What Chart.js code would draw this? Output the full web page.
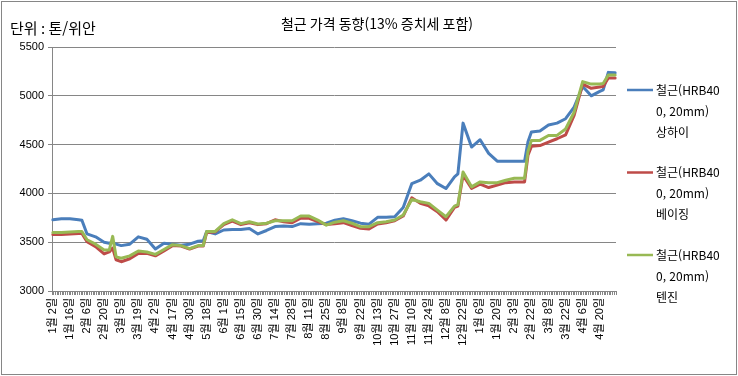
<!DOCTYPE html>
<html lang="ko">
<head>
<meta charset="utf-8">
<script src="https://cdn.jsdelivr.net/npm/chart.js@4.4.1/dist/chart.umd.min.js"></script>
<style>
  body { margin: 0; background: #fff; }
  canvas { display: block; }
</style>
</head>
<body>
<canvas id="SteelPrice" width="738" height="376"></canvas>
<script>
// tick labels, one every 10 trading days
var dateLabels_Steel = [
  "1월 2일", "1월 16일", "2월 6일", "2월 20일", "3월 5일", "3월 19일", "4월 2일", "4월 17일",
  "4월 30일", "5월 18일", "6월 1일", "6월 15일", "6월 30일", "7월 14일", "7월 28일", "8월 11일",
  "8월 25일", "9월 8일", "9월 22일", "10월 13일", "10월 27일", "11월 10일", "11월 24일", "12월 8일",
  "12월 22일", "1월 6일", "1월 20일", "2월 3일", "2월 22일", "3월 8일", "3월 22일", "4월 6일", "4월 20일"
];
var dayCount_Steel = 330;

// trading-day index of each sampled value
var dayIndex_Steel = [
  0, 5, 10, 15, 17, 20, 25, 30, 33, 35, 37, 40, 45, 50, 55, 60, 65, 70, 75, 80, 85, 88, 90, 95,
  100, 105, 110, 115, 120, 125, 130, 135, 140, 145, 150, 155, 160, 165, 170, 175, 180, 185, 190, 195,
  200, 205, 210, 215, 220, 225, 230, 235, 237, 240, 245, 250, 255, 260, 265, 270, 275, 276, 278, 280, 285, 290, 295,
  300, 305, 310, 315, 320, 322, 325, 329
];

var shanghai_Steel = [
  3730, 3740, 3740, 3730, 3725, 3585, 3555, 3500, 3490, 3500, 3480, 3465, 3480, 3555, 3530, 3430, 3490, 3480, 3470, 3480, 3510, 3515, 3610, 3585,
  3625, 3630, 3630, 3640, 3585, 3620, 3660, 3665, 3660, 3690, 3685, 3690, 3695, 3725, 3740, 3720, 3695, 3685, 3755, 3755,
  3760, 3855, 4100, 4135, 4200, 4100, 4050, 4170, 4200, 4720, 4475, 4550, 4410, 4330, 4330, 4330, 4330, 4330, 4530, 4630, 4640, 4700, 4720,
  4765, 4885, 5095, 5000, 5045, 5060, 5240, 5235
];

var beijing_Steel = [
  3580, 3580, 3585, 3590, 3590, 3505, 3455, 3380, 3400, 3440, 3320, 3300, 3330, 3385, 3385, 3360, 3410, 3465, 3460, 3430, 3460, 3460, 3600, 3605,
  3680, 3715, 3680, 3700, 3680, 3690, 3730, 3710, 3700, 3745, 3745, 3710, 3680, 3690, 3700, 3670, 3643, 3635, 3686, 3700,
  3720, 3768, 3955, 3898, 3872, 3812, 3727, 3857, 3870, 4186, 4050, 4095, 4060, 4085, 4110, 4118, 4118, 4118, 4390, 4482, 4490, 4526, 4560,
  4600, 4800, 5120, 5077, 5090, 5095, 5183, 5183
];

var tianjin_Steel = [
  3600, 3600, 3605, 3610, 3610, 3525, 3480, 3420, 3420, 3560, 3350, 3335, 3360, 3410, 3400, 3375, 3425, 3475, 3465, 3435, 3465, 3465, 3610, 3610,
  3690, 3730, 3690, 3710, 3686, 3694, 3720, 3720, 3720, 3768, 3768, 3727, 3675, 3705, 3720, 3694, 3659, 3659, 3700, 3710,
  3727, 3778, 3938, 3914, 3898, 3829, 3761, 3870, 3885, 4220, 4067, 4118, 4110, 4110, 4135, 4155, 4155, 4155, 4430, 4543, 4543, 4594, 4594,
  4660, 4832, 5145, 5120, 5120, 5125, 5213, 5213
];

var seriesNames_Steel = [
  ["철근(HRB40", "0, 20mm)", "상하이"],
  ["철근(HRB40", "0, 20mm)", "베이징"],
  ["철근(HRB40", "0, 20mm)", "텐진"]
];
var seriesColors_Steel = ["#4a7ebb", "#be4b48", "#98b954"];

// one category per trading day, label on every 10th
var xLabels_Steel = [];
for (var i = 0; i < dayCount_Steel; i++) {
  xLabels_Steel.push(i % 10 === 0 ? dateLabels_Steel[i / 10] : "");
}

// spread the sampled values over the day categories, gaps are spanned
function toDaily(values) {
  const out = new Array(dayCount_Steel).fill(null);
  values.forEach((v, k) => { out[dayIndex_Steel[k]] = v; });
  return out;
}

const fontFamily = "'Liberation Sans', 'Noto Sans CJK KR', sans-serif";
const krFont = "'Noto Sans CJK KR', sans-serif";

const decor_Steel = {
  id: "decor",
  beforeDraw(chart) {
    const ctx = chart.ctx;
    ctx.save();
    ctx.fillStyle = "#fff";
    ctx.fillRect(0, 0, chart.width, chart.height);
    ctx.restore();
  },
  afterDraw(chart) {
    const ctx = chart.ctx;
    ctx.save();
    ctx.fillStyle = "#000";
    ctx.textBaseline = "middle";

    ctx.font = "14px " + krFont;
    ctx.textAlign = "center";
    ctx.fillText("철근 가격 동향(13% 증치세 포함)", 377, 24);

    ctx.font = "15px " + krFont;
    ctx.textAlign = "left";
    ctx.fillText("단위 : 톤/위안", 10, 28);

    // legend
    ctx.font = "12px " + krFont;
    seriesNames_Steel.forEach((lines, k) => {
      const y0 = 90 + k * 82.5;
      ctx.strokeStyle = seriesColors_Steel[k];
      ctx.lineWidth = 2.5;
      ctx.beginPath();
      ctx.moveTo(627, y0);
      ctx.lineTo(653, y0);
      ctx.stroke();
      lines.forEach((t, j) => ctx.fillText(t, 656, y0 + j * 21));
    });

    ctx.strokeStyle = "#868686";
    ctx.lineWidth = 1;
    ctx.strokeRect(1.5, 1.5, chart.width - 3, chart.height - 3);
    ctx.restore();
  }
};

const config_Steel = {
  type: "line",
  data: {
    labels: xLabels_Steel,
    datasets: [
      { label: seriesNames_Steel[0].join(""), data: toDaily(shanghai_Steel), borderColor: seriesColors_Steel[0], order: 3 },
      { label: seriesNames_Steel[1].join(""), data: toDaily(beijing_Steel), borderColor: seriesColors_Steel[1], order: 2 },
      { label: seriesNames_Steel[2].join(""), data: toDaily(tianjin_Steel), borderColor: seriesColors_Steel[2], order: 1 },
    ],
  },
  options: {
    responsive: false,
    animation: false,
    spanGaps: true,
    layout: { padding: { top: 47, right: 122, left: 0, bottom: 0 } },
    elements: {
      point: { radius: 0 },
      line: { borderWidth: 3, tension: 0, borderJoinStyle: "round", borderCapStyle: "round" },
    },
    scales: {
      x: {
        type: "category",
        offset: true,
        border: { color: "#868686" },
        grid: { drawOnChartArea: false, tickLength: 4, color: "#868686", offset: true },
        ticks: {
          autoSkip: false,
          maxRotation: 90,
          minRotation: 90,
          padding: 3,
          color: "#000",
          font: { family: fontFamily, size: 11 },
        },
        afterFit: (s) => { s.height = 85; },
      },
      y: {
        min: 3000,
        max: 5500,
        border: { color: "#868686" },
        grid: { color: "#868686", tickLength: 4 },
        ticks: {
          stepSize: 500,
          padding: 4,
          color: "#000",
          font: { family: fontFamily, size: 11 },
          callback: (v) => String(v),
        },
        afterFit: (s) => { s.width = 52; },
      },
    },
    plugins: {
      legend: { display: false },
      title: { display: false },
      tooltip: { enabled: false },
    },
  },
  plugins: [decor_Steel],
};

const SteelPrice = new Chart(document.getElementById("SteelPrice"), config_Steel);
</script>
</body>
</html>
